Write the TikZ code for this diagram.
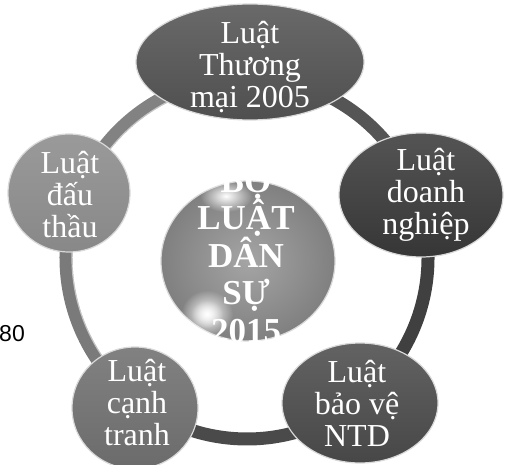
\documentclass[tikz,border=0pt]{standalone}
\usepackage{fontspec}
\setmainfont{Liberation Serif}
\newfontfamily\arialfont{Liberation Sans}
\usetikzlibrary{fadings,shapes.geometric}
\tikzfading[name=softspot, inner color=transparent!0, outer color=transparent!100]
\definecolor{cTop}{HTML}{4F4F4F}
\definecolor{cRight}{HTML}{363636}
\definecolor{cBR}{HTML}{474747}
\definecolor{cBL}{HTML}{6B6B6B}
\definecolor{cLeft}{HTML}{888888}
\definecolor{cCen}{HTML}{8E8E8E}
\definecolor{rA}{HTML}{828282}
\definecolor{rB}{HTML}{7A7A7A}
\definecolor{rC}{HTML}{4A4A4A}
\definecolor{rD}{HTML}{404040}
\definecolor{rE}{HTML}{555555}
\begin{document}
\begin{tikzpicture}[x=1pt,y=-1pt,
  bubble/.style={ellipse, draw=white!70!gray, line width=1.2pt, inner sep=0pt},
  lbl/.style={text=white, align=center, font=\fontsize{32}{32}\selectfont},
  ringseg/.style={line width=13pt},
  ringhl/.style={line width=1.2pt, draw=white, opacity=0.55}]
\useasboundingbox (0,0) rectangle (508,465);
\coordinate (rc) at (247,258);
% ring segments
\draw[ringseg, rA] (rc) ++(-88:181) arc[start angle=-88, end angle=-161, radius=181];
\draw[ringseg, rB] (rc) ++(-161:181) arc[start angle=-161, end angle=-231, radius=181];
\draw[ringseg, rC] (rc) ++(-231:181) arc[start angle=-231, end angle=-312, radius=181];
\draw[ringseg, rD] (rc) ++(-312:181) arc[start angle=-312, end angle=-380, radius=181];
\draw[ringseg, rE] (rc) ++(-380:181) arc[start angle=-380, end angle=-448, radius=181];
\draw[ringhl] (rc) ++(-90:175) arc[start angle=-90, end angle=-250, radius=175];
% outer bubbles
\node[bubble, top color=cTop!85!white, bottom color=cTop, minimum width=228pt, minimum height=116pt] (top) at (250,62) {};
\node[bubble, top color=cRight!85!white, bottom color=cRight, minimum width=164pt, minimum height=124pt] (right) at (421,195) {};
\node[bubble, top color=cBR!85!white, bottom color=cBR, minimum width=156pt, minimum height=120pt] (br) at (360,403) {};
\node[bubble, top color=cBL!85!white, bottom color=cBL, minimum width=126pt, minimum height=122pt] (bl) at (135,408) {};
\node[bubble, top color=cLeft!85!white, bottom color=cLeft, minimum width=122pt, minimum height=118pt] (left) at (69,193) {};
% centre bubble
\node[bubble, inner color=cCen!80!white, outer color=cCen!90!black, minimum width=174pt, minimum height=160pt] (cen) at (248,261) {};
\fill[white, path fading=softspot] (226,196) ellipse (26 and 16);
\fill[white, path fading=softspot] (207,314) ellipse (26 and 24);
\fill[white, path fading=softspot, opacity=0.7] (207,314) ellipse (16 and 14);
% labels
\node[lbl] (ttop) at (250,67) {Luật\\Thương\\mại 2005};
\node[lbl] (tright) at (426,195) {Luật\\doanh\\nghiệp};
\node[lbl] (tbr) at (357,403) {Luật\\bảo vệ\\NTD};
\node[lbl] (tbl) at (137,403) {Luật\\cạnh\\tranh};
\node[lbl] (tleft) at (70,195) {Luật\\đấu\\thầu};
\node[text=white, align=center, font=\bfseries\fontsize{35}{37.5}\selectfont] (tcen) at (246,252) {BỘ\\LUẬT\\DÂN\\SỰ\\2015};
\node[anchor=base east, inner sep=0pt, font=\arialfont\fontsize{23}{23}\selectfont] (num) at (25,341) {80};
\end{tikzpicture}
\end{document}
